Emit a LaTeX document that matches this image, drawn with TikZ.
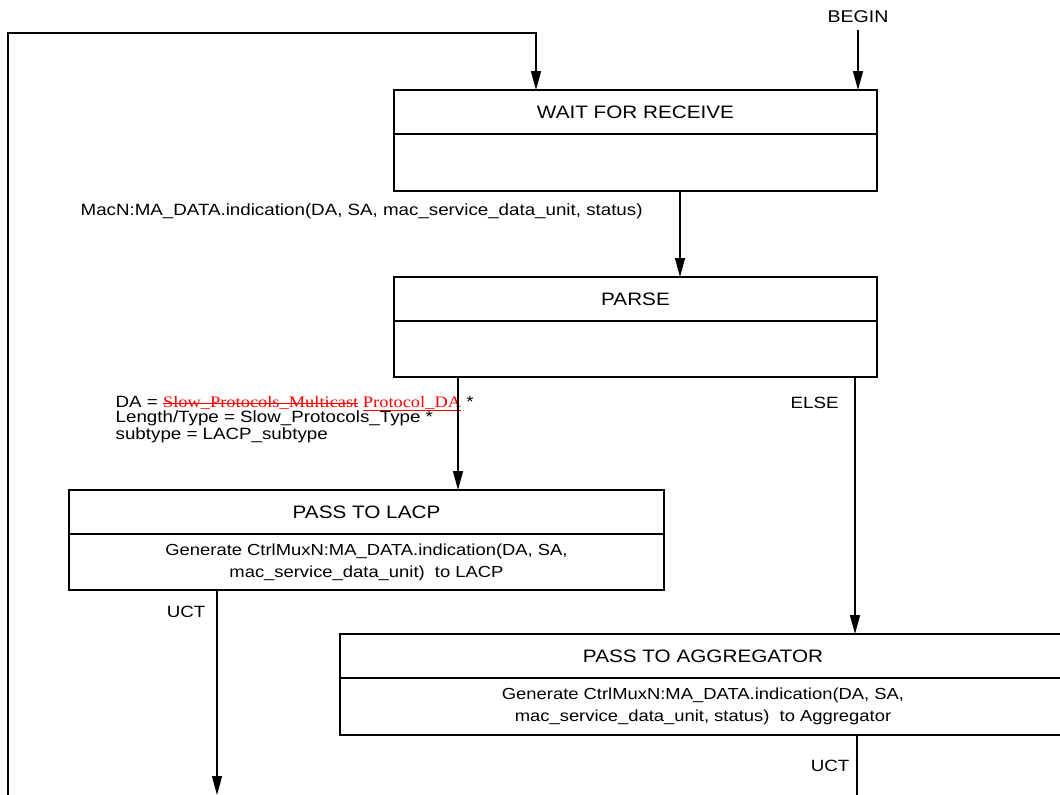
\documentclass[tikz,border=0pt]{standalone}
\usepackage{xcolor}
\usepackage{fontspec}
\setmainfont[FakeStretch=1.15]{Liberation Sans}
\newfontfamily\redfont[FakeStretch=1.15]{Liberation Serif}
\usepackage{tikz}
\usetikzlibrary{positioning,arrows.meta}
\newcommand{\strikered}[1]{\setbox0\hbox{#1}\rlap{\raisebox{0.28em}{\rule{\wd0}{0.7pt}}}\box0}
\newcommand{\ulred}[1]{\setbox0\hbox{#1}\rlap{\raisebox{-0.15em}{\rule{\wd0}{0.7pt}}}\box0}

\begin{document}
\begin{tikzpicture}[x=1pt, y=-1pt, line width=1.4pt, >={Triangle[length=19pt,width=10pt]},
  main/.style = {draw, rectangle, line width=1.7pt, inner sep=0pt, outer sep=0pt, anchor=north west, minimum height=44pt, font=\fontsize{18}{20}\selectfont},
  body/.style = {draw, rectangle, line width=1.7pt, inner sep=0pt, outer sep=0pt, below=0pt of #1, minimum height=57pt, align=center, font=\fontsize{16}{22}\selectfont},
  lbl/.style = {inner sep=0pt, font=\fontsize{16.3}{15}\selectfont}]
\useasboundingbox (0,0) rectangle (1060,795);
\clip (0,0) rectangle (1060,795);
\node[main, minimum width=483pt] (1) at (394,90) {WAIT FOR RECEIVE};
\node[body=1, minimum width=483pt] (1b) {};
\node[main, minimum width=483pt] (2) at (394,277) {PARSE};
\node[body=2, minimum width=483pt, minimum height=56pt] (2b) {};
\node[main, minimum width=595pt] (3) at (69,490) {PASS TO LACP};
\node[body=3, minimum width=595pt, minimum height=56pt] (3b) {Generate CtrlMuxN:MA\_DATA.indication(DA, SA,\\mac\_service\_data\_unit)~ to LACP};
\node[main, minimum width=726pt] (4) at (340,634) {PASS TO AGGREGATOR};
\node[body=4, minimum width=726pt] (4b) {Generate CtrlMuxN:MA\_DATA.indication(DA, SA,\\mac\_service\_data\_unit, status)~ to Aggregator};
\node[lbl, font=\fontsize{17}{18}\selectfont] (begin) at (858,17) {BEGIN};
\node[lbl, anchor=west] (l1) at (80,211) {MacN:MA\_DATA.indication(DA, SA, mac\_service\_data\_unit, status)};
\node[lbl, anchor=north west, align=left] (l2) at (115,396) {DA = {\redfont\fontsize{16}{15}\selectfont\color{red}\strikered{Slow\_Protocols\_Multicast}\ \ulred{Protocol\_DA}} *\\Length/Type = Slow\_Protocols\_Type *\\subtype = LACP\_subtype};
\node[lbl, anchor=west] (l3) at (790,403) {ELSE};
\node[lbl, anchor=east] (l4) at (206,612) {UCT};
\node[lbl, anchor=east] (l5) at (850,766) {UCT};
\coordinate (c1) at (8,800);
\coordinate (c2) at (536,33);
\coordinate (c3) at (217,795);
\coordinate (c4) at (857,800);
\draw[->, shorten <=6pt] (begin) -- (begin |- 1.north);
\draw[->] (c1) |- (c2) -- (c2 |- 1.north);
\draw[->] ([xshift=44.5pt]1b.south) -- ([xshift=44.5pt]2.north);
\draw[->] ([xshift=-177.5pt]2b.south) -- ([xshift=91.5pt]3.north);
\draw[->] ([xshift=219.5pt]2b.south) -- ([xshift=152pt]4.north);
\draw[->] ([xshift=-149.5pt]3b.south) -- (c3);
\draw (c4 |- 4b.south) -- (c4);
\end{tikzpicture}
\end{document}
